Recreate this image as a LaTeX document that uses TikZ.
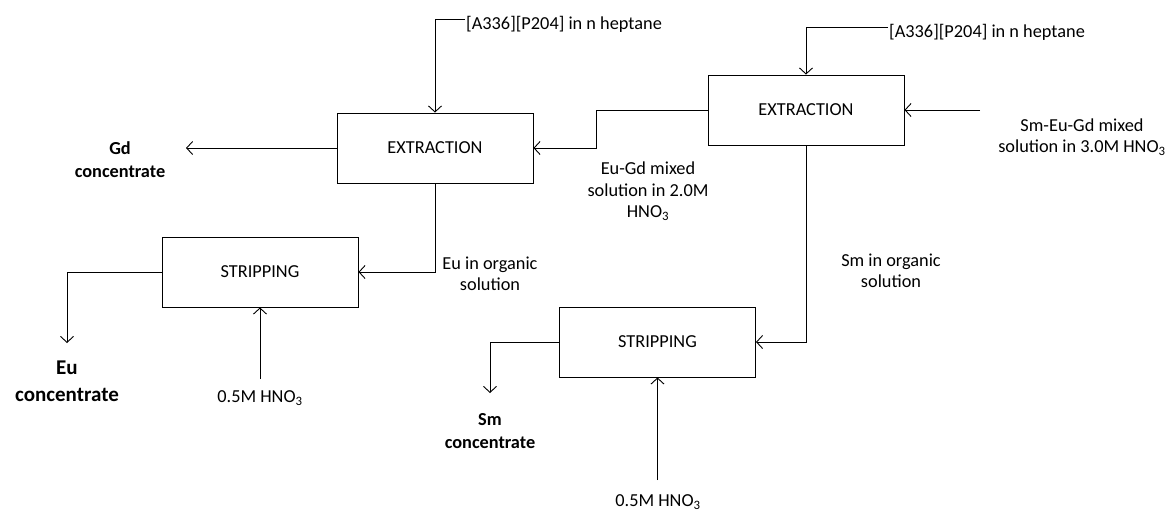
\documentclass[tikz,border=0pt]{standalone}
\usepackage{fontspec}
\setmainfont{Carlito}
\usetikzlibrary{arrows.meta}
\begin{document}
\begin{tikzpicture}[x=1pt,y=-1pt,
  box/.style={draw, line width=0.9pt, minimum width=196pt, minimum height=70pt, inner sep=0pt, font=\fontsize{18.3}{21.5}\selectfont},
  arr/.style={line width=0.9pt, -{Straight Barb[length=6pt,width=13pt]}},
  lbl/.style={align=center, inner sep=0pt, font=\fontsize{18.3}{21.5}\selectfont},
  blbl/.style={align=center, inner sep=0pt, font=\fontsize{18.3}{23}\selectfont\bfseries},
  biglbl/.style={align=center, inner sep=0pt, font=\fontsize{21}{27}\selectfont\bfseries}]
\useasboundingbox (0,0) rectangle (1171,512);
% boxes
\node[box] (ex1) at (435,148) {EXTRACTION};
\node[box] (ex2) at (806,110) {EXTRACTION};
\node[box] (st1) at (260,272) {STRIPPING};
\node[box] (st2) at (657.5,342) {STRIPPING};
% labels
\node[lbl, anchor=west] (org1) at (466,24) {[A336][P204] in n heptane};
\node[lbl, anchor=west] (org2) at (889,32) {[A336][P204] in n heptane};
\node[lbl] (feed) at (1082,137) {Sm-Eu-Gd mixed\\solution in 3.0M HNO\textsubscript{3}};
\node[lbl] (egt) at (648,191) {Eu-Gd mixed\\solution in 2.0M\\HNO\textsubscript{3}};
\node[lbl] (eut) at (490,274) {Eu in organic\\solution};
\node[lbl] (smt) at (891,271) {Sm in organic\\solution};
\node[lbl] (ac1) at (260,398) {0.5M HNO\textsubscript{3}};
\node[lbl] (ac2) at (658,502) {0.5M HNO\textsubscript{3}};
\node[blbl] (gdc) at (120,160) {Gd\\concentrate};
\node[blbl] (smc) at (490,431) {Sm\\concentrate};
\node[biglbl] (euc) at (67,381) {Eu\\concentrate};
% free ends
\coordinate (o1) at (465,19);
\coordinate (o2) at (888,27);
\coordinate (fd) at (980,110);
\coordinate (gdtip) at (186,148);
\coordinate (eutip) at (67,343);
\coordinate (smtip) at (490,393);
\coordinate (a1) at (260,379);
\coordinate (a2) at (657.5,480);
% connectors
\draw[arr] (o1) -| (ex1.north);
\draw[arr] (o2) -| (ex2.north);
\draw[arr] (fd) -- (ex2.east);
\draw[arr] (ex2.west) -- ++(-111,0) |- (ex1.east);
\draw[arr] (ex1.west) -- (gdtip);
\draw[arr] (ex1.south) |- (st1.east);
\draw[arr] (st1.west) -| (eutip);
\draw[arr] (a1) -- (st1.south);
\draw[arr] (ex2.south) |- (st2.east);
\draw[arr] (st2.west) -| (smtip);
\draw[arr] (a2) -- (st2.south);
\end{tikzpicture}
\end{document}
